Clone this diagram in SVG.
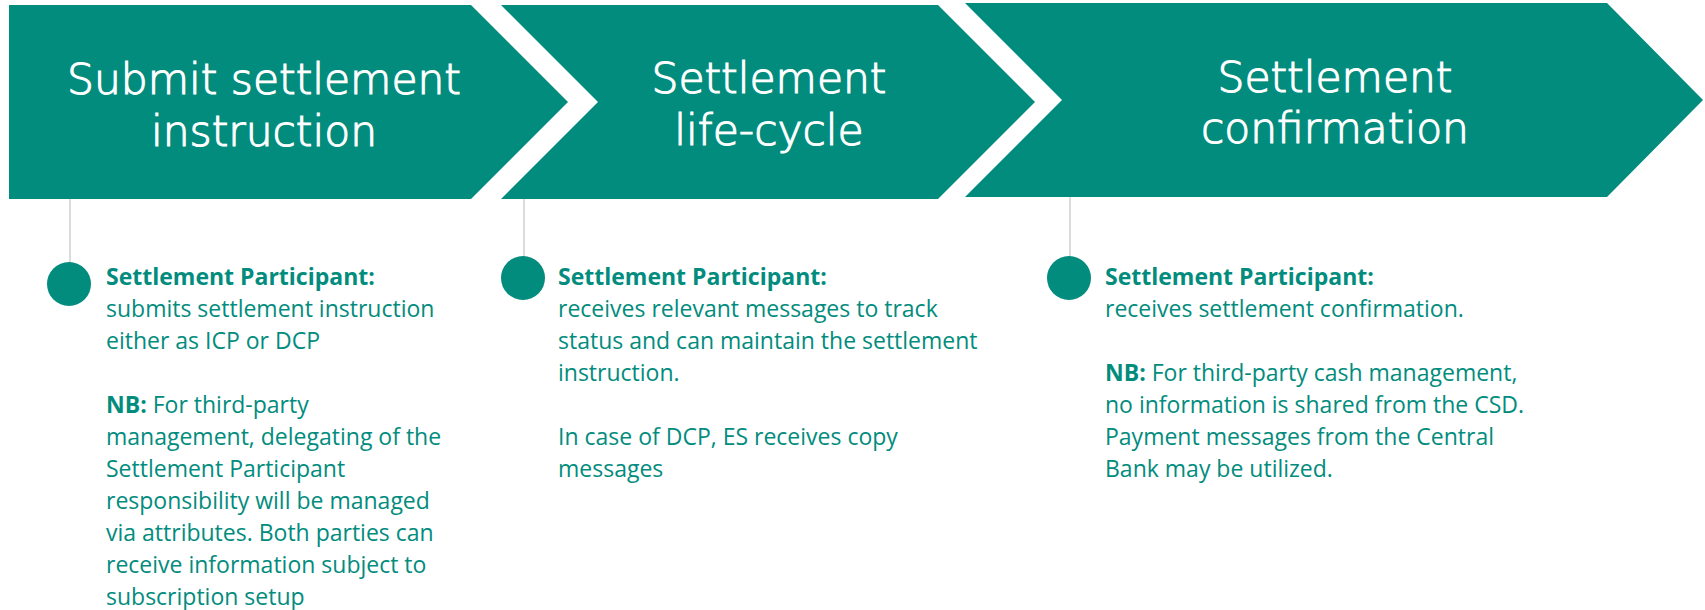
<svg xmlns="http://www.w3.org/2000/svg" width="1705" height="610" viewBox="0 0 1705 610">
<style>
.chev{fill:#028C7E}
.title{font-family:"DejaVu Sans","Liberation Sans",sans-serif;font-weight:200;font-size:42.4px;fill:#FFFFFF;stroke:#FFFFFF;stroke-width:1.1px;text-anchor:middle}
.body{font-family:"Open Sans","Liberation Sans",sans-serif;font-size:23px;fill:#028C7E}
.b{font-weight:700}
.stem{stroke:#D0D0D0;stroke-width:1.5;fill:none}
.dot{fill:#028C7E}
</style>
<rect x="0" y="0" width="1705" height="610" fill="#FFFFFF"/>
<g id="connectors">
<line class="stem" x1="70" y1="199" x2="70" y2="263"/>
<line class="stem" x1="524" y1="199" x2="524" y2="257"/>
<line class="stem" x1="1070" y1="197" x2="1070" y2="257"/>
</g>
<g id="step1">
<polygon class="chev" points="9,5 471,5 568,102 471,199 9,199"/>
<text class="title" x="264" y="94"><tspan x="264" y="94">Submit settlement</tspan><tspan x="264" y="146">instruction</tspan></text>
</g>
<g id="step2">
<polygon class="chev" points="501,5 938,5 1035,102 938,199 501,199 598,102"/>
<text class="title" x="769" y="93"><tspan x="769" y="93">Settlement</tspan><tspan x="769" y="145">life-cycle</tspan></text>
</g>
<g id="step3">
<polygon class="chev" points="965,3 1607,3 1703,100 1607,197 965,197 1062,100"/>
<text class="title" x="1335" y="92"><tspan x="1335" y="92">Settlement</tspan><tspan x="1335" y="143">confirmation</tspan></text>
</g>
<g id="note1">
<circle class="dot" cx="69" cy="284" r="22"/>
<text class="body" x="106" y="285"><tspan class="b">Settlement Participant:</tspan></text>
<text class="body" x="106" y="317">submits settlement instruction</text>
<text class="body" x="106" y="349">either as ICP or DCP</text>
<text class="body" x="106" y="413"><tspan class="b">NB:</tspan> For third-party</text>
<text class="body" x="106" y="445">management, delegating of the</text>
<text class="body" x="106" y="477">Settlement Participant</text>
<text class="body" x="106" y="509">responsibility will be managed</text>
<text class="body" x="106" y="541">via attributes. Both parties can</text>
<text class="body" x="106" y="573">receive information subject to</text>
<text class="body" x="106" y="605">subscription setup</text>
</g>
<g id="note2">
<circle class="dot" cx="523" cy="278" r="22"/>
<text class="body" x="558" y="285"><tspan class="b">Settlement Participant:</tspan></text>
<text class="body" x="558" y="317">receives relevant messages to track</text>
<text class="body" x="558" y="349">status and can maintain the settlement</text>
<text class="body" x="558" y="381">instruction.</text>
<text class="body" x="558" y="445">In case of DCP, ES receives copy</text>
<text class="body" x="558" y="477">messages</text>
</g>
<g id="note3">
<circle class="dot" cx="1069" cy="278" r="22"/>
<text class="body" x="1105" y="285"><tspan class="b">Settlement Participant:</tspan></text>
<text class="body" x="1105" y="317">receives settlement confirmation.</text>
<text class="body" x="1105" y="381"><tspan class="b">NB:</tspan> For third-party cash management,</text>
<text class="body" x="1105" y="413">no information is shared from the CSD.</text>
<text class="body" x="1105" y="445">Payment messages from the Central</text>
<text class="body" x="1105" y="477">Bank may be utilized.</text>
</g>
</svg>
